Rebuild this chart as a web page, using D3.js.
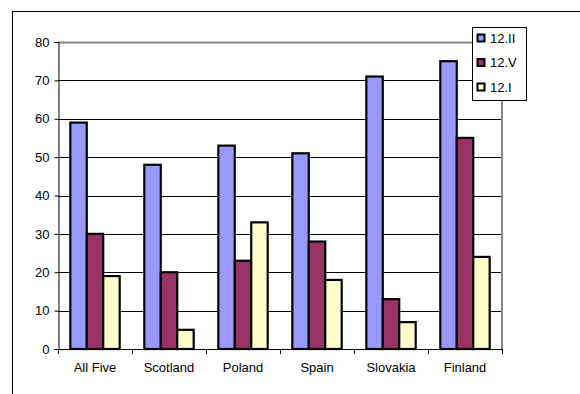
<!DOCTYPE html>
<html>
<head>
<meta charset="utf-8">
<script src="https://cdn.jsdelivr.net/npm/d3@7"></script>
<style>
  html, body { margin: 0; padding: 0; background: #fff; }
  svg { display: block; font-family: Arial, "Liberation Sans", sans-serif; }
</style>
</head>
<body>
<svg id="chart" width="580" height="394"></svg>
<script>
// Categories and series
const categories = ["All Five", "Scotland", "Poland", "Spain", "Slovakia", "Finland"];
const seriesNames = ["12.II", "12.V", "12.I"];
const values_12II = [59, 48, 53, 51, 71, 75];
const values_12V  = [30, 20, 23, 28, 13, 55];
const values_12I  = [19, 5, 33, 18, 7, 24];
const seriesColors = ["#9999FF", "#993366", "#FFFFCC"];
const yTicks = [0, 10, 20, 30, 40, 50, 60, 70, 80];

const seriesValues = [values_12II, values_12V, values_12I];
const FONT = "Arial, 'Liberation Sans', sans-serif";

const svg = d3.select("#chart");

// Outer chart frame (extends past the window on the right and bottom)
svg.append("rect")
  .attr("x", 12.5).attr("y", 11.5)
  .attr("width", 600).attr("height", 420)
  .attr("fill", "none").attr("stroke", "#000").attr("stroke-width", 1);

const plot = { left: 58, top: 42, right: 502, bottom: 349 };

const x0 = d3.scaleBand()
  .domain(categories)
  .range([plot.left, plot.right])
  .paddingInner(0.333)
  .paddingOuter(0.1665);

const x1 = d3.scaleBand()
  .domain(seriesNames)
  .range([0, x0.bandwidth()])
  .padding(0);

const y = d3.scaleLinear()
  .domain([0, 80])
  .range([plot.bottom, plot.top]);

// Horizontal gridlines
svg.append("g")
  .selectAll("line")
  .data(yTicks.filter(t => t > 0))
  .join("line")
  .attr("x1", plot.left).attr("x2", plot.right)
  .attr("y1", d => Math.round(y(d)) + 0.5).attr("y2", d => Math.round(y(d)) + 0.5)
  .attr("stroke", d => d === 80 ? "#888" : "#000")
  .attr("stroke-width", d => d === 80 ? 2 : 1);

// Right border of plot area
svg.append("line")
  .attr("x1", plot.right).attr("x2", plot.right)
  .attr("y1", plot.top).attr("y2", plot.bottom)
  .attr("stroke", "#888").attr("stroke-width", 2);

// Bars
const groups = svg.append("g")
  .selectAll("g")
  .data(categories)
  .join("g")
  .attr("transform", d => `translate(${x0(d)},0)`);

groups.selectAll("rect")
  .data((c, i) => seriesNames.map((s, k) => ({ s, v: seriesValues[k][i], color: seriesColors[k] })))
  .join("rect")
  .attr("x", d => x1(d.s))
  .attr("y", d => y(d.v))
  .attr("width", x1.bandwidth())
  .attr("height", d => y(0) - y(d.v))
  .attr("fill", d => d.color)
  .attr("stroke", "#000")
  .attr("stroke-width", 2.2);

// Y axis
const yAxis = d3.axisLeft(y)
  .tickValues(yTicks)
  .tickSize(4)
  .tickPadding(5);

const gy = svg.append("g")
  .attr("transform", `translate(${plot.left + 0.5},0)`)
  .call(yAxis);
gy.select(".domain").attr("stroke", "#000");
gy.selectAll(".tick line").attr("stroke", "#000");
gy.selectAll(".tick text")
  .attr("font-size", 13)
  .attr("font-family", FONT)
  .attr("fill", "#000");

// X axis labels centred on each category
const xAxis = d3.axisBottom(x0).tickSize(0).tickPadding(13);
const gx = svg.append("g")
  .attr("transform", `translate(0,${plot.bottom + 0.5})`)
  .call(xAxis);
gx.select(".domain").remove();
gx.selectAll(".tick text")
  .attr("font-size", 13)
  .attr("font-family", FONT)
  .attr("fill", "#000");

svg.append("line")
  .attr("x1", plot.left).attr("x2", plot.right)
  .attr("y1", plot.bottom + 0.5).attr("y2", plot.bottom + 0.5)
  .attr("stroke", "#000");

// Tick marks on the category boundaries
const step = x0.step();
const boundaries = d3.range(categories.length + 1).map(i => x0(categories[0]) - x0.step() * x0.paddingOuter() + i * step);
svg.append("g")
  .selectAll("line")
  .data(boundaries)
  .join("line")
  .attr("x1", d => Math.round(d) + 0.5).attr("x2", d => Math.round(d) + 0.5)
  .attr("y1", plot.bottom).attr("y2", plot.bottom + 5)
  .attr("stroke", "#000");

// Legend
const legend = svg.append("g").attr("transform", "translate(472,27)");
legend.append("rect")
  .attr("x", 0.5).attr("y", 0.5)
  .attr("width", 54).attr("height", 73)
  .attr("fill", "#fff").attr("stroke", "#000");

const items = legend.selectAll("g.item")
  .data(seriesNames)
  .join("g")
  .attr("class", "item")
  .attr("transform", (d, i) => `translate(5,${7 + i * 24.5})`);

items.append("rect")
  .attr("x", 0.5).attr("y", 0.5)
  .attr("width", 7).attr("height", 7)
  .attr("fill", (d, i) => seriesColors[i])
  .attr("stroke", "#000").attr("stroke-width", 2);

items.append("text")
  .attr("x", 13).attr("y", 4)
  .attr("dy", "0.35em")
  .attr("font-size", 13)
  .attr("font-family", FONT)
  .attr("fill", "#000")
  .text(d => d);
</script>
</body>
</html>
